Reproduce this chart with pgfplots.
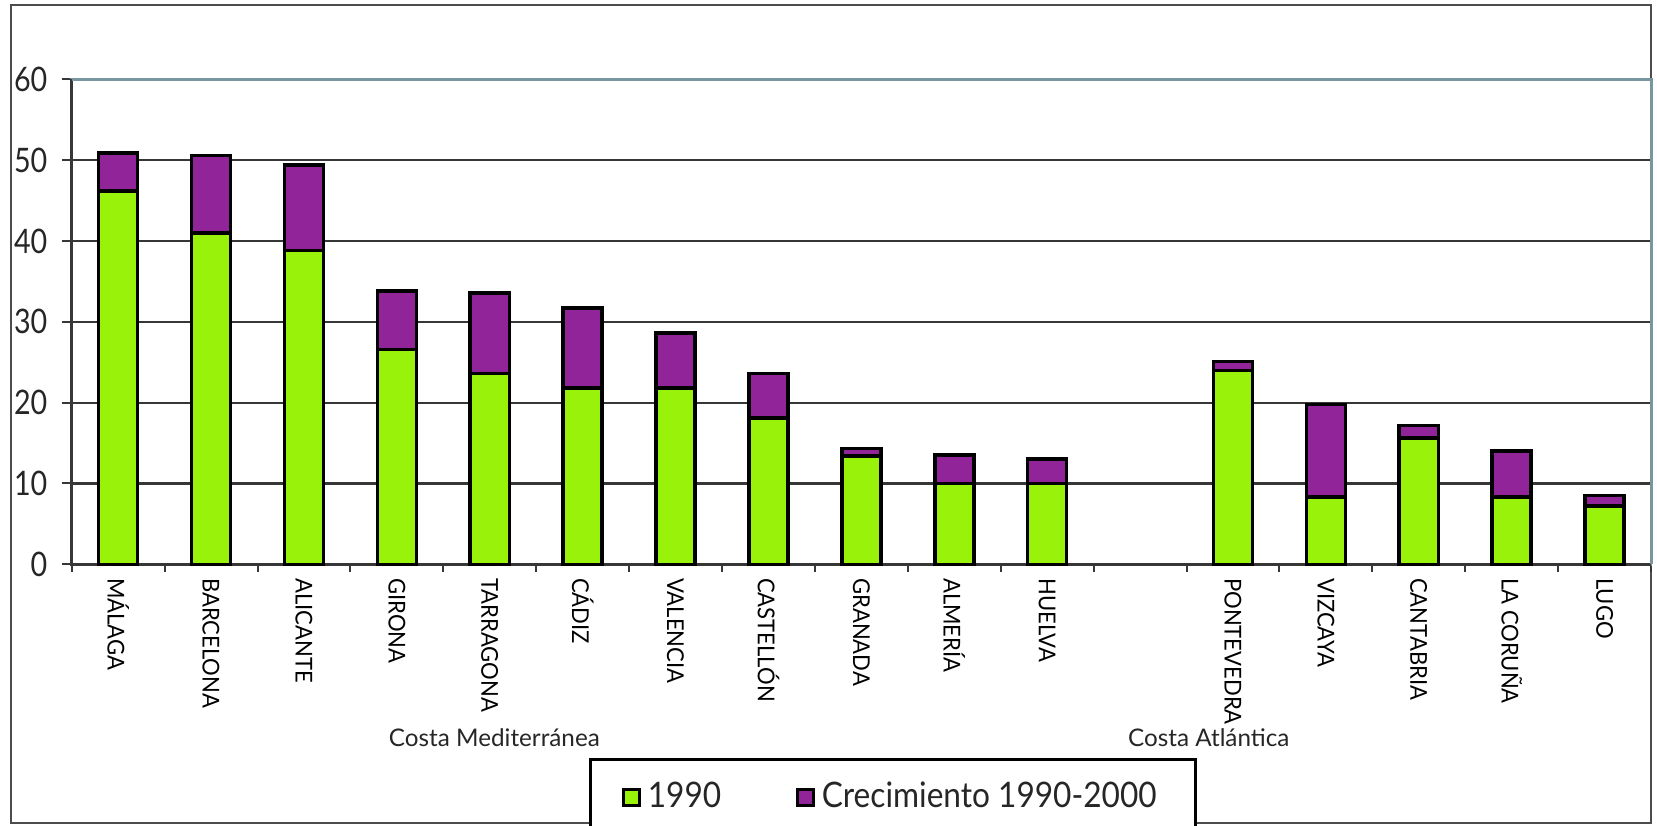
\documentclass[border=0pt]{standalone}
\usepackage{pgfplots}
\pgfplotsset{compat=1.18}
\usepackage{pgfplotstable}
\usepackage{fontspec}
\setmainfont{Lato}
\definecolor{barG}{RGB}{153,242,10}
\definecolor{barP}{RGB}{146,36,154}
\definecolor{slate}{RGB}{120,150,160}
\definecolor{gridc}{RGB}{55,55,55}
\newcommand{\nl}[1]{\scalebox{0.95}[1]{#1}}
\newcommand{\legtxt}[1]{\scalebox{0.9}[1]{#1}}
\pgfplotsset{mylegimg/.style={legend image code/.code={\draw[##1,line width=0.25mm] (0mm,-0.8mm) rectangle (1.6mm,0.8mm);}}}

\pgfplotstableread{
x a b
0 46.2 4.7
1 41.0 9.6
2 38.8 10.6
3 26.6 7.2
4 23.6 9.95
5 21.8 9.9
6 21.8 6.8
7 18.1 5.5
8 13.4 0.9
9 10.0 3.5
10 10.0 3.0
12 24.0 1.1
13 8.3 11.5
14 15.6 1.6
15 8.3 5.7
16 7.2 1.3
}\datatable

\begin{document}
\begin{tikzpicture}
\useasboundingbox (0,0) rectangle (165.7mm,82.5mm);
\draw[black!70, line width=0.2mm] (1.1mm,0.2mm) rectangle (165.1mm,81.95mm);
\begin{axis}[
  at={(7.17mm,26.07mm)}, anchor=south west,
  width=157.93mm, height=48.5mm, scale only axis,
  xmin=-0.5, xmax=16.5, ymin=0, ymax=60,
  clip=false,
  ytick={0,10,...,60},
  yticklabel={\scalebox{0.85}[1]{\pgfmathprintnumber{\tick}}},
  xtick={0,1,2,3,4,5,6,7,8,9,10,12,13,14,15,16},
  xticklabels={\nl{MÁLAGA},\nl{BARCELONA},\nl{ALICANTE},\nl{GIRONA},\nl{TARRAGONA},\nl{CÁDIZ},\nl{VALENCIA},\nl{CASTELLÓN},\nl{GRANADA},\nl{ALMERÍA},\nl{HUELVA},\nl{PONTEVEDRA},\nl{VIZCAYA},\nl{CANTABRIA},\nl{LA CORUÑA},\nl{LUGO}},
  minor xtick={-0.5,0.5,...,16.5},
  major x tick style={draw=none},
  minor x tick style={draw=gridc, line width=0.2mm},
  minor tick length=0.75mm,
  major tick length=1mm,
  tick align=outside,
  xtick pos=bottom, ytick pos=left,
  ytick style={draw=gridc, line width=0.2mm},
  ymajorgrids, grid style={gridc, line width=0.22mm},
  axis line style={slate, line width=0.25mm},
  /pgf/number format/assume math mode=true,
  yticklabel style={font=\fontsize{9.6}{10}\selectfont, text=black!85, xshift=-0.2mm},
  xticklabel shift=-0.85mm,
  xticklabel style={rotate=-90, anchor=west, font=\fontsize{6.6}{7}\selectfont, text=black},
  ybar stacked, bar width=0.42,
  legend columns=2,
  legend cell align=left,
  legend style={at={(0.3276,-0.3994)}, anchor=north west, draw=black, line width=0.25mm,
    font=\fontsize{10}{10}\selectfont, text=black!85, inner xsep=3.2mm, inner ysep=1.6mm,
    /tikz/every even column/.append style={column sep=6.8mm}},
]
\addplot[fill=barG, draw=black, line width=1pt, mylegimg] table[x=x,y=a]{\datatable};
\addplot[fill=barP, draw=black, line width=1pt, mylegimg] table[x=x,y=b]{\datatable};
\legend{\legtxt{1990}, \legtxt{Crecimiento 1990-2000}}
\draw[slate, line width=0.3mm] (axis cs:-0.5,60) -- (axis cs:16.5,60) -- (axis cs:16.5,0);
\draw[gridc, line width=0.25mm] (axis cs:-0.5,60) -- (axis cs:-0.5,0) -- (axis cs:16.5,0);
\node[font=\fontsize{6.9}{7}\selectfont, text=black!85] at (axis cs:4.05,-21.5) {Costa Mediterránea};
\node[font=\fontsize{6.9}{7}\selectfont, text=black!85] at (axis cs:11.74,-21.5) {Costa Atlántica};
\end{axis}
\end{tikzpicture}
\end{document}
